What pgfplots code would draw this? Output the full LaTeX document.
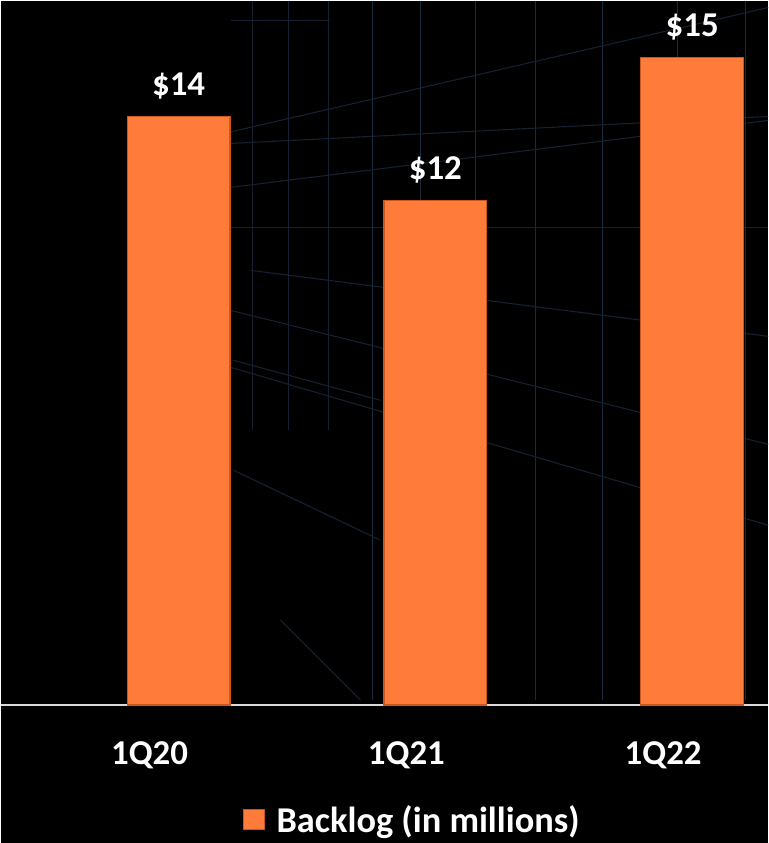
\documentclass[border=0pt]{standalone}
\usepackage{pgfplots}
\pgfplotsset{compat=1.18}
\usepackage{fontspec}
\setmainfont{Carlito}
\definecolor{barorange}{HTML}{FF7B3A}
\definecolor{baredge}{HTML}{C9571F}
\definecolor{gridc}{HTML}{152030}
\definecolor{gridv}{HTML}{1A2A3E}
\begin{document}
\begin{tikzpicture}[x=1bp,y=1bp]
\fill[black] (0,-138) rectangle (768,705);
% decorative background grid (pixel coordinates, y down from top)
\begin{scope}[shift={(0,705)}, yscale=-1, line width=1.1bp]
  \foreach \x in {252,288,328} \draw[gridc] (\x,0) -- (\x,430);
  \foreach \x in {372,420,475,535,602,677,745} \draw[gridv] (\x,0) -- (\x,700);
  \draw[gridc] (150,150) -- (768,7);
  \draw[gridc] (230,143) -- (768,116);
  \draw[gridc] (230,187) -- (768,120);
  \draw[gridc] (230,227) -- (768,227);
  \draw[gridc] (250,270) -- (768,336);
  \draw[gridc] (230,310) -- (768,444);
  \draw[gridc] (230,367) -- (768,525);
  \draw[gridc] (230,20) -- (330,20);
  \draw[gridc] (233,360) -- (380,400);
  \draw[gridc] (233,470) -- (380,540);
  \draw[gridc] (280,620) -- (360,700);
\end{scope}
\begin{axis}[
  at={(0,0)}, anchor=south west,
  scale only axis, width=768bp, height=705bp,
  xmin=-0.693, xmax=2.296, ymin=0, ymax=16.76,
  hide y axis,
  axis x line*=bottom,
  x axis line style={draw=white!85!black, line width=1.3bp},
  major tick length=0pt,
  xtick=data, xticklabels={1Q20,1Q21,1Q22},
  xticklabel style={anchor=base, yshift=-59bp, xshift=-29bp, text=white, font=\fontsize{35}{40}\selectfont\bfseries},
  ybar, bar width=103bp,
  nodes near coords, point meta=explicit symbolic,
  nodes near coords style={anchor=base, yshift=21bp, text=white, font=\fontsize{35}{40}\selectfont\bfseries},
  legend style={at={(0.536,-0.163)}, anchor=center, draw=none, fill=none, text=white,
    font=\fontsize{36.5}{42}\selectfont\bfseries},
  legend image code/.code={\fill[barorange, draw=baredge, line width=1pt] (0bp,-10bp) rectangle (21bp,10bp);
    \path (31bp,0bp);},
]
\addplot[fill=barorange, draw=baredge, line width=1.2bp]
  coordinates {(0,14.0) [\$14] (1,12.0) [\$12] (2,15.4) [\$15]};
\addlegendentry{Backlog (in millions)}
\end{axis}
\end{tikzpicture}
\end{document}
